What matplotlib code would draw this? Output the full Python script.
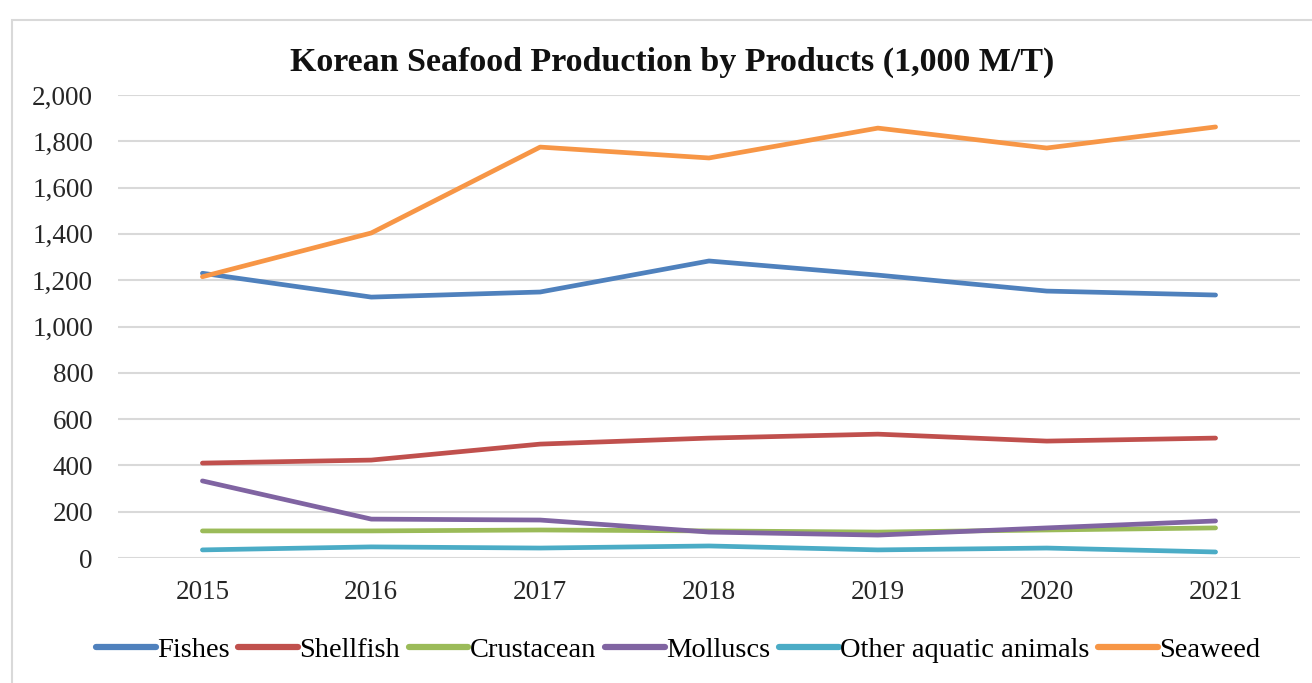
import matplotlib
matplotlib.use("Agg")
import matplotlib.pyplot as plt
from matplotlib.patches import Rectangle
from matplotlib.ticker import FuncFormatter

years = ["2015", "2016", "2017", "2018", "2019", "2020", "2021"]
fishes = [1230, 1127, 1149, 1283, 1222, 1153, 1136]
shellfish = [410, 423, 492, 518, 535, 505, 518]
crustacean = [117, 117, 121, 117, 112, 121, 130]
molluscs = [333, 168, 164, 112, 99, 130, 160]
other = [35, 48, 43, 52, 35, 43, 26]
seaweed = [1215, 1404, 1775, 1728, 1857, 1771, 1862]

series = [
    ("Fishes", fishes, "#4F81BD"),
    ("Shellfish", shellfish, "#C0504D"),
    ("Crustacean", crustacean, "#9BBB59"),
    ("Molluscs", molluscs, "#8064A2"),
    ("Other aquatic animals", other, "#4BACC6"),
    ("Seaweed", seaweed, "#F79646"),
]

plt.rcParams["font.family"] = ["Liberation Serif", "DejaVu Serif"]

fig = plt.figure(figsize=(13.12, 6.83), dpi=100, facecolor="white")
# outer chart border
fig.patches.append(Rectangle((12 / 1312, -20 / 683), 1.1, 683 / 683,
                             transform=fig.transFigure, fill=False,
                             edgecolor="#D9D9D9", linewidth=1.5))

ax = fig.add_axes([118 / 1312, 1 - 558 / 683, (1300 - 118) / 1312, (558 - 95) / 683])
x = list(range(len(years)))
for name, vals, color in series:
    ax.plot(x, vals, color=color, linewidth=3.4, label=name, solid_capstyle="round")

ax.set_xlim(-0.5, len(years) - 0.5)
ax.set_ylim(0, 2000)
ax.set_yticks(range(0, 2001, 200))
ax.yaxis.set_major_formatter(FuncFormatter(lambda v, p: f"{int(v):,}"))
ax.set_xticks(x)
ax.set_xticklabels(years)
ax.grid(axis="y", color="#D9D9D9", linewidth=1.5)
ax.set_axisbelow(True)
for s in ax.spines.values():
    s.set_visible(False)
ax.tick_params(length=0, labelsize=19.5, colors="#262626")
ax.tick_params(axis="x", pad=16)
ax.tick_params(axis="y", pad=18)

fig.text(672 / 1312, 1 - 62 / 683, "Korean Seafood Production by Products (1,000 M/T)",
         ha="center", va="center", fontsize=24.5, fontweight="bold", color="#111111")

leg = fig.legend(loc="center", bbox_to_anchor=(678 / 1312, 1 - 650 / 683), ncol=6,
                 frameon=False, fontsize=20.5, handlelength=2.1, handletextpad=0.05,
                 columnspacing=0.3, borderaxespad=0)
for h in leg.get_lines():
    h.set_linewidth(4.5)

fig.savefig("out.png", dpi=100, facecolor="white")
